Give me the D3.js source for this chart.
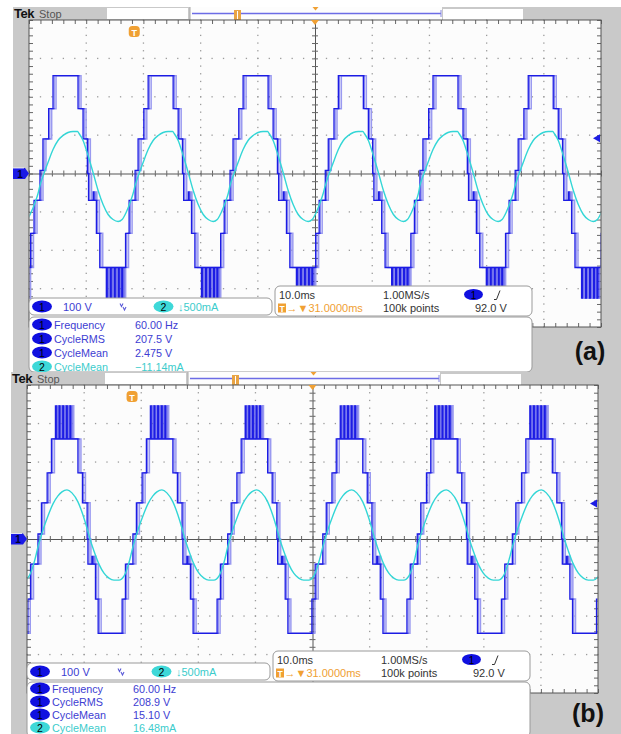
<!DOCTYPE html>
<html><head><meta charset="utf-8">
<script src="https://cdn.jsdelivr.net/npm/d3@7"></script>
<style>
html,body{margin:0;padding:0;background:#fff;}
svg{display:block;}
text{font-family:"Liberation Sans",Arial,sans-serif;}
</style></head><body>
<svg id="c" width="621" height="734"></svg>
<script>
// ---------------- data ----------------
const timeDomainMs = [0, 100];            // 10 div x 10.0 ms
const ch1DomainV = [-400, 400];           // 8 div x 100 V
const ch2DomainMA = [-2000, 2000];        // 8 div x 500 mA
const triggerLevelV = 92.0;
// rising zero crossing of each 60 Hz cycle (ms from left edge)
const cycleStartsMs = [-14.7, 1.92, 18.55, 35.15, 51.8, 68.35, 85.0];
// channel 1 staircase, one cycle: [ms after cycle start, volts]
const ch1StepsA = [
  [0.00, 8], [0.52, 90], [1.52, 169], [2.28, 255],
  [6.65, 169], [7.53, 90], [8.28, 0], [8.49, -70],
  [9.30, -48], [9.42, -70], [9.86, -156], [10.45, -245],
  [11.60, -325], [11.75, -245], [12.30, -325], [12.45, -245],
  [13.00, -325], [13.15, -245], [13.70, -325], [13.85, -245],
  [14.30, -325], [14.45, -245],
  [14.96, -156], [15.58, -70]
];
const ch1StepsB = [
  [0.00, 13], [0.61, 94], [1.61, 172], [2.36, 260],
  [3.06, 346], [3.20, 260], [3.70, 346], [3.84, 260],
  [4.34, 346], [4.48, 260], [4.98, 346], [5.12, 260],
  [5.60, 346], [5.74, 260],
  [7.00, 172], [7.79, 94], [8.61, 0], [8.75, -65],
  [9.45, -45], [9.60, -65], [10.07, -156], [10.54, -245],
  [14.74, -156], [15.32, -65]
];
// channel 2 current, one cycle: [ms after cycle start, mA]
const ch2ShapeA = [
  [0.00, -156], [0.70, 0], [1.40, 143], [2.28, 312], [3.15, 430], [4.03, 495],
  [4.90, 534], [5.78, 547], [6.57, 547], [6.83, 521], [7.53, 430], [8.40, 234],
  [9.28, 13], [10.16, -221], [11.03, -404], [11.91, -534], [12.78, -599],
  [13.66, -625], [14.36, -599], [15.06, -508], [15.76, -378], [16.28, -260]
];
const ch2ShapeB = [
  [0.00, -104], [0.40, 0], [0.88, 117], [1.75, 299], [2.63, 456], [3.50, 560],
  [4.20, 612], [5.08, 638], [5.95, 599], [7.00, 482], [7.88, 312], [8.58, 143],
  [9.11, 0], [9.81, -156], [10.68, -326], [11.56, -443], [12.43, -508],
  [13.31, -534], [14.18, -534], [15.06, -482], [15.76, -352], [16.11, -260]
];
const measNames = ["Frequency", "CycleRMS", "CycleMean", "CycleMean"];
const measChannels = ["1", "1", "1", "2"];
const measValuesA = ["60.00 Hz", "207.5 V", "2.475 V", "\u221211.14mA"];
const measValuesB = ["60.00 Hz", "208.9 V", "15.10 V", "16.48mA"];
const ch1ScaleText = "100 V";
const ch2ScaleText = "\u2193500mA";
const timeTexts = ["10.0ms", "1.00MS/s", "100k points", "92.0 V", "\u2192\u25BC31.0000ms"];

// ---------------- drawing ----------------
const BLUE = "#1c1ce4", LIGHTBLUE = "#9a9af0", CYAN = "#33d6d6", ORANGE = "#f0a033";
const TXTBLUE = "#3d3dd2", TXTCYAN = "#3ccccc", FRAME = "#c9c9c9";
const svg = d3.select("#c");

const panels = [
  {id: "a", frame: [13, 7, 621, 373], dx: 0, dy: 0, grat: [29, 20, 601, 327],
   steps: ch1StepsA, cur: ch2ShapeA, vals: measValuesA, label: "(a)", labelPos: [590, 360], rowStart: 324.5, rowGap: 14},
  {id: "b", frame: [11, 372, 621, 734], dx: -2, dy: 365, grat: [27, 385, 598, 693],
   steps: ch1StepsB, cur: ch2ShapeB, vals: measValuesB, label: "(b)", labelPos: [588, 722], rowStart: 323.5, rowGap: 13}
];

function expand(template) {
  const pts = [];
  cycleStartsMs.forEach(s => template.forEach(([t, v]) => pts.push([s + t, v])));
  pts.sort((a, b) => a[0] - b[0]);
  return pts;
}

function drawPanel(P) {
  const g = svg.append("g");
  const [fx0, fy0, fx1, fy1] = P.frame;
  g.append("rect").attr("x", fx0).attr("y", fy0).attr("width", fx1 - fx0).attr("height", fy1 - fy0).attr("fill", FRAME);

  // header (positions in panel-a coordinates, shifted)
  const h = g.append("g").attr("transform", `translate(${P.dx},${P.dy})`);
  h.append("rect").attr("x", 107).attr("y", 8).attr("width", 81).attr("height", 11).attr("fill", "#fff");
  h.append("rect").attr("x", 190).attr("y", 7).attr("width", 252).attr("height", 13).attr("fill", "#fdfdfd");
  h.append("line").attr("x1", 190).attr("x2", 190).attr("y1", 7).attr("y2", 20).attr("stroke", "#aaa");
  h.append("line").attr("x1", 192).attr("x2", 441).attr("y1", 13.5).attr("y2", 13.5).attr("stroke", "#6c6ce6").attr("stroke-width", 1.6);
  h.append("line").attr("x1", 441).attr("x2", 441).attr("y1", 10).attr("y2", 17).attr("stroke", "#8888dd");
  h.append("rect").attr("x", 443).attr("y", 9).attr("width", 80).attr("height", 11).attr("fill", "#fff");
  h.append("rect").attr("x", 234).attr("y", 10).attr("width", 7).attr("height", 10).attr("fill", "#e9a444");
  h.append("line").attr("x1", 237.5).attr("x2", 237.5).attr("y1", 11).attr("y2", 19).attr("stroke", "#fff").attr("stroke-width", 1);
  h.append("path").attr("d", "M312.5,7 L318.5,7 L315.5,10.5 Z").attr("fill", ORANGE);
  h.append("text").attr("x", 14).attr("y", 18).attr("font-size", 13).attr("font-weight", "bold").attr("fill", "#111").attr("letter-spacing", -0.5).text("Tek");
  h.append("text").attr("x", 39).attr("y", 18).attr("font-size", 11).attr("fill", "#555").text("Stop");

  // graticule
  const [gx0, gy0, gx1, gy1] = P.grat;
  const x = d3.scaleLinear().domain(timeDomainMs).range([gx0, gx1]);
  const yV = d3.scaleLinear().domain(ch1DomainV).range([gy1, gy0]);
  const yI = d3.scaleLinear().domain(ch2DomainMA).range([gy1, gy0]);
  g.append("rect").attr("x", gx0).attr("y", gy0).attr("width", gx1 - gx0).attr("height", gy1 - gy0).attr("fill", "#fcfcfc");

  const minorT = d3.range(0, 100.001, 2);
  const minorV = d3.range(-400, 400.001, 20);
  const majorT = d3.range(10, 91, 10).filter(t => t !== 50);
  const majorV = d3.range(-300, 301, 100).filter(v => v !== 0);
  const dots = g.append("g").attr("fill", "#9c9c9c");
  majorV.forEach(v => minorT.forEach(t => dots.append("rect").attr("x", x(t) - 0.6).attr("y", yV(v) - 0.6).attr("width", 1.3).attr("height", 1.3)));
  majorT.forEach(t => minorV.forEach(v => dots.append("rect").attr("x", x(t) - 0.6).attr("y", yV(v) - 0.6).attr("width", 1.3).attr("height", 1.3)));

  function styleAxis(sel, keepDomain) {
    sel.selectAll("line").attr("stroke", "#666");
    if (!keepDomain) sel.select(".domain").remove();
    else sel.select(".domain").attr("stroke", "#555");
  }
  // border minor ticks
  g.append("g").attr("transform", `translate(0,${gy0})`).call(d3.axisBottom(x).tickValues(minorT).tickSize(4).tickFormat("")).call(s => styleAxis(s, false));
  g.append("g").attr("transform", `translate(0,${gy1})`).call(d3.axisTop(x).tickValues(minorT).tickSize(4).tickFormat("")).call(s => styleAxis(s, false));
  g.append("g").attr("transform", `translate(${gx0},0)`).call(d3.axisRight(yV).tickValues(minorV).tickSize(4).tickFormat("")).call(s => styleAxis(s, false));
  g.append("g").attr("transform", `translate(${gx1},0)`).call(d3.axisLeft(yV).tickValues(minorV).tickSize(4).tickFormat("")).call(s => styleAxis(s, false));
  // center cross with ticks
  const cy = yV(0), cx = x(50);
  g.append("g").attr("transform", `translate(0,${cy})`).call(d3.axisBottom(x).tickValues(minorT).tickSize(3).tickSizeOuter(0).tickFormat("")).call(s => styleAxis(s, true));
  g.append("g").attr("transform", `translate(0,${cy})`).call(d3.axisTop(x).tickValues(minorT).tickSize(3).tickSizeOuter(0).tickFormat("")).call(s => styleAxis(s, false));
  g.append("g").attr("transform", `translate(${cx},0)`).call(d3.axisRight(yV).tickValues(minorV).tickSize(3).tickSizeOuter(0).tickFormat("")).call(s => styleAxis(s, true));
  g.append("g").attr("transform", `translate(${cx},0)`).call(d3.axisLeft(yV).tickValues(minorV).tickSize(3).tickSizeOuter(0).tickFormat("")).call(s => styleAxis(s, false));

  // traces
  const clipId = "clip" + P.id;
  g.append("clipPath").attr("id", clipId).append("rect").attr("x", gx0 + 0.5).attr("y", gy0 + 0.5).attr("width", gx1 - gx0 - 1).attr("height", gy1 - gy0 - 1);
  const tr = g.append("g").attr("clip-path", `url(#${clipId})`);
  const stepPts = expand(P.steps);
  const stepLine = d3.line().x(d => x(d[0])).y(d => yV(d[1])).curve(d3.curveStepAfter);
  tr.append("path").attr("d", stepLine(stepPts)).attr("fill", "none").attr("stroke", LIGHTBLUE).attr("stroke-width", 1.5).attr("transform", "translate(3,0)");
  tr.append("path").attr("d", stepLine(stepPts)).attr("fill", "none").attr("stroke", BLUE).attr("stroke-width", 1.1).attr("transform", "translate(1.2,0)").attr("opacity", 0.55);
  tr.append("path").attr("d", stepLine(stepPts)).attr("fill", "none").attr("stroke", BLUE).attr("stroke-width", 1.3);
  const curPts = expand(P.cur);
  const curLine = d3.line().x(d => x(d[0])).y(d => yI(d[1])).curve(d3.curveMonotoneX);
  tr.append("path").attr("d", curLine(curPts)).attr("fill", "none").attr("stroke", CYAN).attr("stroke-width", 1.4);

  // graticule border
  g.append("rect").attr("x", gx0).attr("y", gy0).attr("width", gx1 - gx0).attr("height", gy1 - gy0).attr("fill", "none").attr("stroke", "#555").attr("stroke-width", 1);

  // markers
  g.append("path").attr("d", `M${cx - 4},${gy0} L${cx + 4},${gy0} L${cx},${gy0 + 5} Z`).attr("fill", ORANGE);
  const tm = g.append("g").attr("transform", `translate(${x(18.4)},${gy0 + 12})`);
  tm.append("rect").attr("x", -5.5).attr("y", -6).attr("width", 11).attr("height", 11).attr("rx", 3.5).attr("fill", ORANGE);
  tm.append("text").attr("x", 0).attr("y", 3.5).attr("text-anchor", "middle").attr("font-size", 9).attr("font-weight", "bold").attr("fill", "#fff").text("T");
  // channel 1 ground marker
  const gm = g.append("g").attr("transform", `translate(${gx0},${cy})`);
  gm.append("path").attr("d", "M-16,-5.5 L-4,-5.5 L0,0 L-4,5.5 L-16,5.5 Z").attr("fill", "#1a1ae6");
  gm.append("line").attr("x1", -16).attr("x2", -5).attr("y1", -5.5).attr("y2", -5.5).attr("stroke", "#fff").attr("stroke-width", 0.8);
  gm.append("text").attr("x", -9).attr("y", 4).attr("text-anchor", "middle").attr("font-size", 10).attr("font-weight", "bold").attr("fill", "#000033").text("1");
  // trigger level marker
  const ty = yV(triggerLevelV);
  g.append("path").attr("d", `M${gx1 - 8},${ty} L${gx1 - 1},${ty - 4} L${gx1 - 1},${ty + 4} Z`).attr("fill", BLUE);

  // boxes
  const b = g.append("g").attr("transform", `translate(${P.dx},${P.dy})`);
  function box(x0, y0, w, hh) {
    b.append("rect").attr("x", x0).attr("y", y0).attr("width", w).attr("height", hh).attr("rx", 5).attr("fill", "#fff").attr("stroke", "#9a9a9a").attr("stroke-width", 1);
  }
  function badge(cxp, cyp, label, fill) {
    b.append("ellipse").attr("cx", cxp).attr("cy", cyp).attr("rx", 10).attr("ry", 6).attr("fill", fill);
    b.append("text").attr("x", cxp).attr("y", cyp + 4).attr("text-anchor", "middle").attr("font-size", 10.5).attr("fill", "#000").text(label);
  }
  box(29, 298, 243, 17);
  badge(42, 306.5, "1", "#1010e0");
  b.append("text").attr("x", 63).attr("y", 311).attr("font-size", 11).attr("fill", TXTBLUE).text(ch1ScaleText);
  b.append("path").attr("d", "M120,303.5 l1.5,3 l1.5,-3 M123,307 l1.5,3 l1.5,-3").attr("fill", "none").attr("stroke", "#5a5ad8").attr("stroke-width", 1.1);
  badge(163.5, 306.5, "2", "#3ed8d8");
  b.append("text").attr("x", 178).attr("y", 311).attr("font-size", 11).attr("fill", TXTCYAN).text(ch2ScaleText);

  box(275, 286, 257, 30);
  b.append("text").attr("x", 279).attr("y", 298.5).attr("font-size", 11).attr("fill", "#333").text(timeTexts[0]);
  b.append("text").attr("x", 383).attr("y", 298.5).attr("font-size", 11).attr("fill", "#333").text(timeTexts[1]);
  b.append("ellipse").attr("cx", 473.5).attr("cy", 294.5).attr("rx", 9.5).attr("ry", 5.5).attr("fill", "#1010e0");
  b.append("text").attr("x", 473.5).attr("y", 298.5).attr("text-anchor", "middle").attr("font-size", 10).attr("fill", "#000").text("1");
  b.append("path").attr("d", "M494,299.5 h2.5 l3.5,-9").attr("fill", "none").attr("stroke", "#333").attr("stroke-width", 1);
  b.append("rect").attr("x", 278).attr("y", 303.5).attr("width", 8).attr("height", 9).attr("fill", ORANGE);
  b.append("text").attr("x", 282).attr("y", 311.5).attr("text-anchor", "middle").attr("font-size", 8.5).attr("font-weight", "bold").attr("fill", "#fff").text("T");
  b.append("text").attr("x", 286.5).attr("y", 312).attr("font-size", 11).attr("fill", ORANGE).text(timeTexts[4]);
  b.append("text").attr("x", 383).attr("y", 312).attr("font-size", 11).attr("fill", "#333").text(timeTexts[2]);
  b.append("text").attr("x", 475).attr("y", 312).attr("font-size", 11).attr("fill", "#333").text(timeTexts[3]);

  box(29, 317, 503, 55);
  measNames.forEach((name, i) => {
    const yy = P.rowStart + i * P.rowGap;
    const isC2 = measChannels[i] === "2";
    badge(42, yy, measChannels[i], isC2 ? "#3ed8d8" : "#1010e0");
    const col = isC2 ? TXTCYAN : TXTBLUE;
    b.append("text").attr("x", 54).attr("y", yy + 4).attr("font-size", 10.8).attr("fill", col).text(name);
    b.append("text").attr("x", 135).attr("y", yy + 4).attr("font-size", 10.8).attr("fill", col).text(P.vals[i]);
  });

  g.append("text").attr("x", P.labelPos[0]).attr("y", P.labelPos[1]).attr("text-anchor", "middle").attr("font-size", 25).attr("font-weight", "bold").attr("fill", "#111").text(P.label);
}

panels.forEach(drawPanel);
</script>
</body></html>
